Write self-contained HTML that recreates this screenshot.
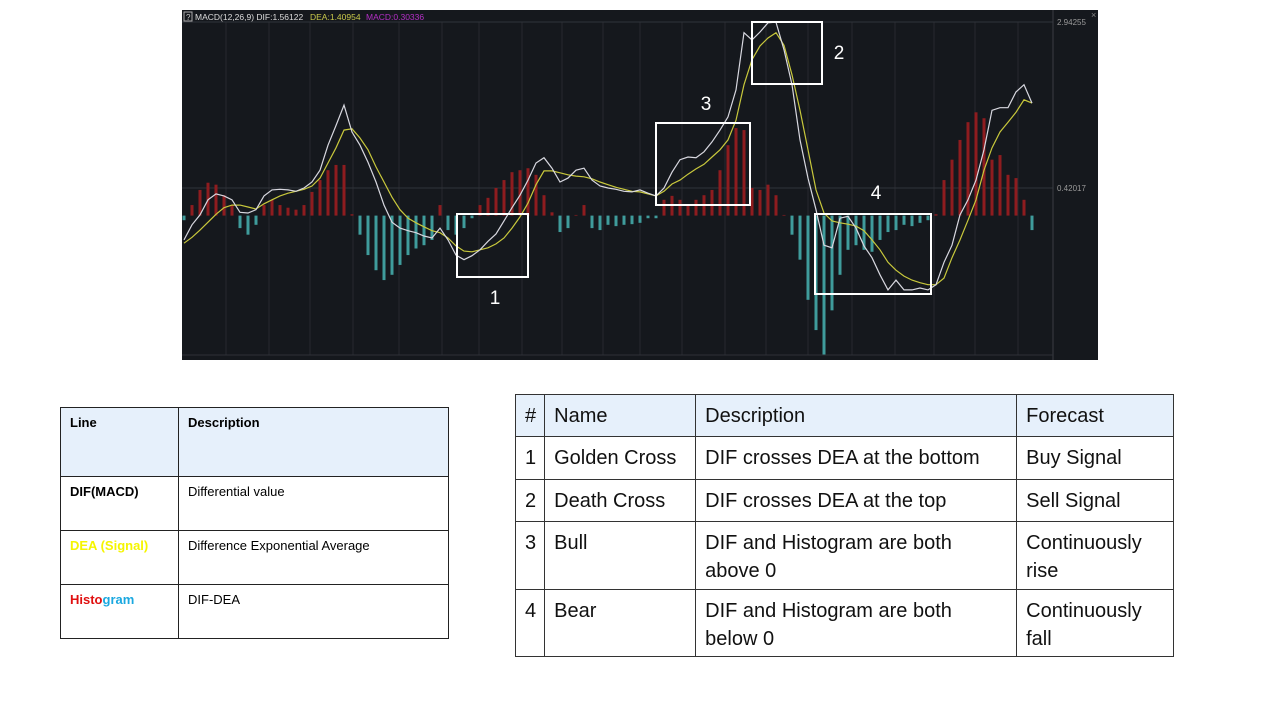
<!DOCTYPE html>
<html><head><meta charset="utf-8">
<style>
body{margin:0;width:1280px;height:720px;background:#fff;position:relative;overflow:hidden;font-family:"Liberation Sans",sans-serif}
table{border-collapse:collapse;position:absolute}
#t1{left:60px;top:407px;width:389px;font-size:13px}
#t1 td{border:1px solid #222;vertical-align:top;padding:7px 9px 0 9px;height:46px}
#t1 tr.h td{background:#e6f0fb;height:61px;font-weight:bold}
#t2{left:515px;top:394px;width:659px;font-size:20px;color:#111}
#t2 td{border:1px solid #333;vertical-align:top;padding:7px 9px 0 9px;line-height:28px;white-space:nowrap}
#t2 tr.h td{background:#e6f0fb}
</style></head><body>
<svg id="chart" width="1280" height="370" style="position:absolute;left:0;top:0">
<rect x="182" y="10" width="916" height="350" fill="#15181d"/>
<g id="grid"></g><g id="bars"></g><g id="lines"></g>
<line x1="1053" y1="10" x2="1053" y2="360" stroke="#3a3d44"/>
<line x1="182" y1="355" x2="1053" y2="355" stroke="#2e3138"/>
<rect x="184" y="12" width="8" height="9" fill="none" stroke="#aaa" stroke-width="1"/>
<text x="186" y="20" font-size="8" fill="#ccc">?</text>
<text x="195" y="20" font-size="8.5" fill="#ddd">MACD(12,26,9) DIF:1.56122</text>
<text x="310" y="20" font-size="8.5" fill="#c9c94a">DEA:1.40954</text>
<text x="366" y="20" font-size="8.5" fill="#b52fc7">MACD:0.30336</text>
<text x="1091" y="18" font-size="9" fill="#888">×</text>
<g id="ylabels"></g>
<g id="annot" fill="none" stroke="#fff" stroke-width="2"></g>
</svg>

<table id="t1">
<tr class="h"><td style="width:99px">Line</td><td>Description</td></tr>
<tr><td style="font-weight:bold">DIF(MACD)</td><td>Differential value</td></tr>
<tr><td style="font-weight:bold;color:#f5f500">DEA (Signal)</td><td>Difference Exponential Average</td></tr>
<tr><td style="font-weight:bold"><span style="color:#e01010">Histo</span><span style="color:#1aa8e0">gram</span></td><td>DIF-DEA</td></tr>
</table>

<table id="t2">
<tr class="h" style="height:42px"><td style="width:10px;padding:7px 8px 0 9px">#</td><td style="width:132px">Name</td><td style="width:302px">Description</td><td>Forecast</td></tr>
<tr style="height:43px"><td style="padding:7px 8px 0 9px">1</td><td>Golden Cross</td><td>DIF crosses DEA at the bottom</td><td>Buy Signal</td></tr>
<tr style="height:42px"><td style="padding:7px 8px 0 9px">2</td><td>Death Cross</td><td>DIF crosses DEA at the top</td><td>Sell Signal</td></tr>
<tr style="height:68px"><td style="padding:7px 8px 0 9px">3</td><td>Bull</td><td>DIF and Histogram are both<br>above 0</td><td>Continuously<br>rise</td></tr>
<tr style="height:67px"><td style="padding:7px 8px 0 9px">4</td><td>Bear</td><td>DIF and Histogram are both<br>below 0</td><td>Continuously<br>fall</td></tr>
</table>

<script>
const tickValues=[2.94255,0.42017];
const tickLabels=["2.94255","0.42017"];
const dif=[-0.37,-0.14,0.01,0.24,0.33,0.30,0.24,0.05,0.04,0.09,0.30,0.39,0.40,0.39,0.37,0.42,0.51,0.69,1.07,1.37,1.68,1.27,1.07,0.81,0.51,0.16,-0.10,-0.19,-0.23,-0.26,-0.31,-0.34,-0.19,-0.37,-0.60,-0.67,-0.61,-0.52,-0.39,-0.28,-0.08,0.12,0.31,0.54,0.80,0.88,0.72,0.51,0.57,0.69,0.72,0.54,0.45,0.42,0.40,0.37,0.36,0.39,0.34,0.30,0.42,0.66,0.85,0.89,0.88,0.97,1.12,1.30,1.50,1.91,2.78,2.67,2.79,2.93,2.94,2.52,1.99,1.15,0.57,0.09,-0.45,-0.49,-0.04,-0.01,-0.19,-0.46,-0.64,-0.90,-1.13,-0.98,-1.13,-1.13,-1.10,-1.13,-1.05,-0.71,-0.45,0.01,0.24,0.54,1.00,1.60,1.64,1.64,1.88,1.99,1.71];
const dea=[-0.42,-0.33,-0.22,-0.10,0.02,0.12,0.16,0.16,0.13,0.10,0.18,0.24,0.30,0.34,0.37,0.40,0.45,0.57,0.80,1.03,1.30,1.32,1.18,1.00,0.74,0.51,0.28,0.09,-0.04,-0.11,-0.17,-0.23,-0.26,-0.34,-0.46,-0.54,-0.55,-0.52,-0.49,-0.43,-0.34,-0.19,-0.02,0.19,0.47,0.68,0.68,0.65,0.62,0.60,0.59,0.56,0.51,0.47,0.43,0.40,0.37,0.36,0.33,0.30,0.37,0.48,0.54,0.63,0.71,0.78,0.89,1.00,1.15,1.45,1.99,2.37,2.58,2.70,2.78,2.59,2.14,1.60,1.00,0.39,0.04,-0.08,-0.11,-0.13,-0.16,-0.23,-0.37,-0.52,-0.71,-0.83,-0.92,-0.98,-1.02,-1.05,-1.05,-0.95,-0.64,-0.37,-0.07,0.24,0.69,1.03,1.27,1.42,1.57,1.76,1.71];
const hist=[-0.07,0.16,0.39,0.50,0.47,0.31,0.16,-0.19,-0.29,-0.14,0.16,0.24,0.16,0.12,0.09,0.16,0.36,0.54,0.69,0.77,0.77,0.02,-0.29,-0.60,-0.83,-0.98,-0.90,-0.75,-0.60,-0.50,-0.45,-0.37,0.16,-0.22,-0.29,-0.19,-0.04,0.16,0.27,0.42,0.54,0.66,0.69,0.72,0.62,0.31,0.05,-0.25,-0.19,0.01,0.16,-0.19,-0.22,-0.14,-0.16,-0.14,-0.13,-0.11,-0.04,-0.04,0.24,0.30,0.24,0.16,0.24,0.31,0.39,0.69,1.07,1.33,1.30,0.42,0.39,0.47,0.31,0.01,-0.29,-0.67,-1.28,-1.74,-2.12,-1.44,-0.90,-0.52,-0.45,-0.52,-0.55,-0.37,-0.25,-0.22,-0.14,-0.16,-0.11,-0.07,0.02,0.54,0.85,1.15,1.42,1.57,1.48,0.85,0.92,0.62,0.57,0.24,-0.22];
const NS="http://www.w3.org/2000/svg";
const n=Math.min(dif.length,dea.length,hist.length);
const X0=184,X1=1032;
function xs(i){return X0+(X1-X0)*i/(n-1);}
function ys(v){return 215.6-(215.6-22)/2.94255*v;}
function mk(tag,attrs,parent){const e=document.createElementNS(NS,tag);for(const k in attrs)e.setAttribute(k,attrs[k]);parent.appendChild(e);return e;}
const grid=document.getElementById('grid');
[226,269,310,353,399,442,479,522,562,603,640,682,725,766,808,852,895,934,975,1018].forEach(x=>{
 const l=mk('line',{x1:x,y1:22,x2:x,y2:355,stroke:'#262930','stroke-width':1},grid);
 
 
});
const yl=document.getElementById('ylabels');
tickValues.forEach((v,k)=>{
 const g=mk('line',{x1:182,y1:ys(v),x2:1053,y2:ys(v),stroke:'#30333a','stroke-width':1},grid);
 
 
 const t=mk('text',{x:1057,y:ys(v)+3,'font-size':8,fill:'#9a9a9a'},yl);
 t.textContent=tickLabels[k];
 
 
});
const bars=document.getElementById('bars');
for(let i=0;i<n;i++){
 const v=hist[i],y0=ys(0),y1=ys(v);
 const r=mk('rect',{x:xs(i)-1.5,y:Math.min(y0,y1),width:3,height:Math.max(0.5,Math.abs(y1-y0)),fill:v>=0?'#8e1c1f':'#3f9c9c'},bars);
 
 
}
const lines=document.getElementById('lines');
function path(arr,col,name){
 let d='';for(let i=0;i<n;i++)d+=(i?'L':'M')+xs(i).toFixed(1)+','+ys(arr[i]).toFixed(1);
 const p=mk('path',{d:d,fill:'none',stroke:col,'stroke-width':1.2},lines);
 
 
}
path(dea,'#c8c83c','dea-line');
path(dif,'#d8d8e0','dif-line');
const an=document.getElementById('annot');
const boxes=[[457,214,71,63,'1',495,304],[752,22,70,62,'2',839,59],[656,123,94,82,'3',706,110],[815,214,116,80,'4',876,199]];
boxes.forEach(b=>{
 const r=mk('rect',{x:b[0],y:b[1],width:b[2],height:b[3]},an);
 
 
 const t=mk('text',{x:b[5],y:b[6],'font-size':19,fill:'#fff',stroke:'none','text-anchor':'middle'},an);
 t.textContent=b[4];
 
 
});
</script>
</body></html>
